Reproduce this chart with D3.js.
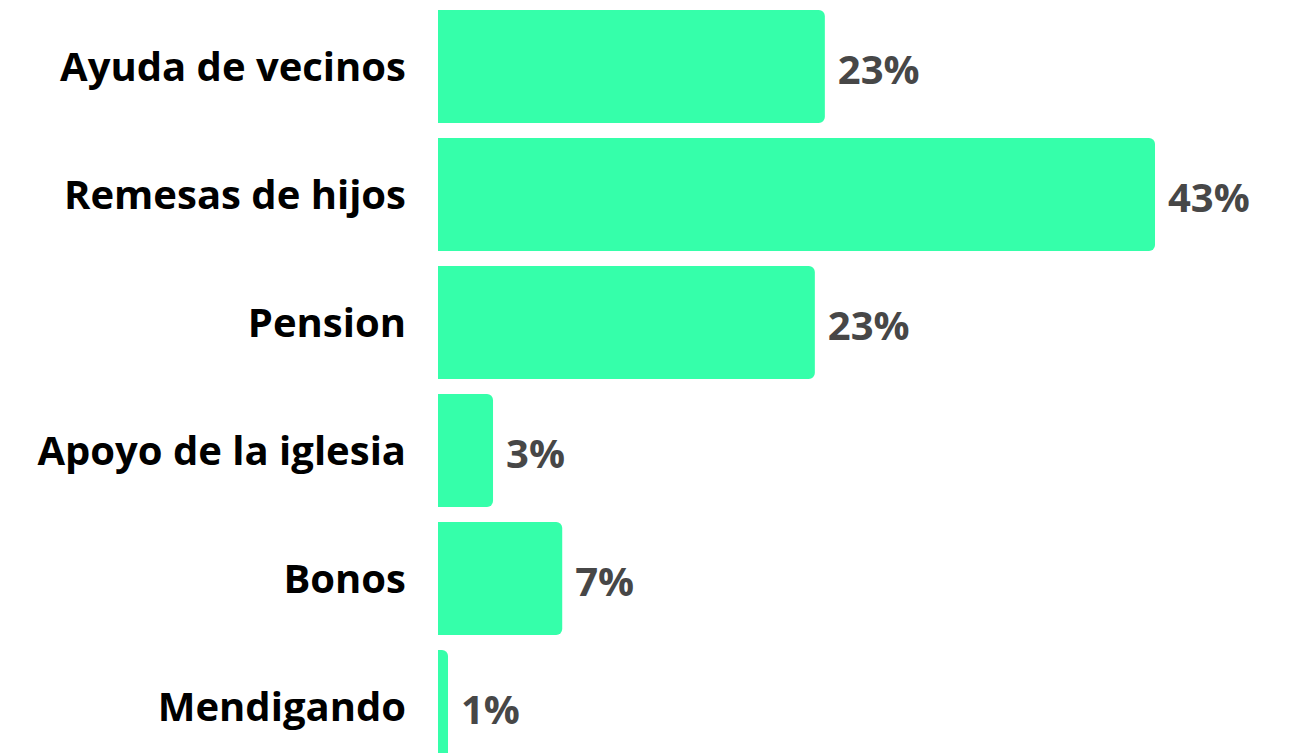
<!DOCTYPE html>
<html>
<head>
<meta charset="utf-8">
<script src="https://cdn.jsdelivr.net/npm/d3@7"></script>
<style>
  html, body { margin: 0; padding: 0; background: #ffffff; }
  svg { display: block; }
</style>
</head>
<body>
<svg id="chart" width="1292" height="753"></svg>
<script>
// Fuentes de ingreso (porcentaje de hogares)
const categories = ["Ayuda de vecinos", "Remesas de hijos", "Pension", "Apoyo de la iglesia", "Bonos", "Mendigando"];
const values = [23.2, 43, 22.6, 3.3, 7.45, 0.6];

const width = 1292, height = 753;
const barColor = "#35ffaa";
const font = "'Open Sans', sans-serif";

const svg = d3.select("#chart");

const x = d3.scaleLinear().domain([0, d3.max(values)]).range([438, 1155]);
const y = d3.scaleBand().domain(categories).range([10, 763]).paddingInner(0.117).paddingOuter(0);

const data = categories.map((c, i) => ({ cat: c, val: values[i] }));
const fmt = v => Math.round(v) + "%";

// Bar with rounded right-hand corners only
function barPath(x0, y0, w, h, r) {
  r = Math.min(r, w, h / 2);
  return `M${x0},${y0}H${x0 + w - r}A${r},${r} 0 0 1 ${x0 + w},${y0 + r}` +
         `V${y0 + h - r}A${r},${r} 0 0 1 ${x0 + w - r},${y0 + h}H${x0}Z`;
}

svg.append("g").selectAll("path")
  .data(data)
  .join("path")
  .attr("d", d => barPath(x(0), y(d.cat), x(d.val) - x(0), y.bandwidth(), 6))
  .attr("fill", barColor);

// Category labels
svg.append("g").selectAll("text")
  .data(data)
  .join("text")
  .attr("x", 406)
  .attr("y", d => y(d.cat) + y.bandwidth() / 2)
  .attr("dy", "0.36em")
  .attr("text-anchor", "end")
  .attr("font-family", font)
  .attr("font-weight", 700)
  .attr("font-size", 40)
  .attr("fill", "#000000")
  .text(d => d.cat);

// Value labels
svg.append("g").selectAll("text")
  .data(data)
  .join("text")
  .attr("x", d => x(d.val) + 13)
  .attr("y", d => y(d.cat) + y.bandwidth() / 2 + 3)
  .attr("dy", "0.36em")
  .attr("font-family", font)
  .attr("font-weight", 700)
  .attr("font-size", 40)
  .attr("fill", "#474747")
  .text(d => fmt(d.val));
</script>
</body>
</html>
